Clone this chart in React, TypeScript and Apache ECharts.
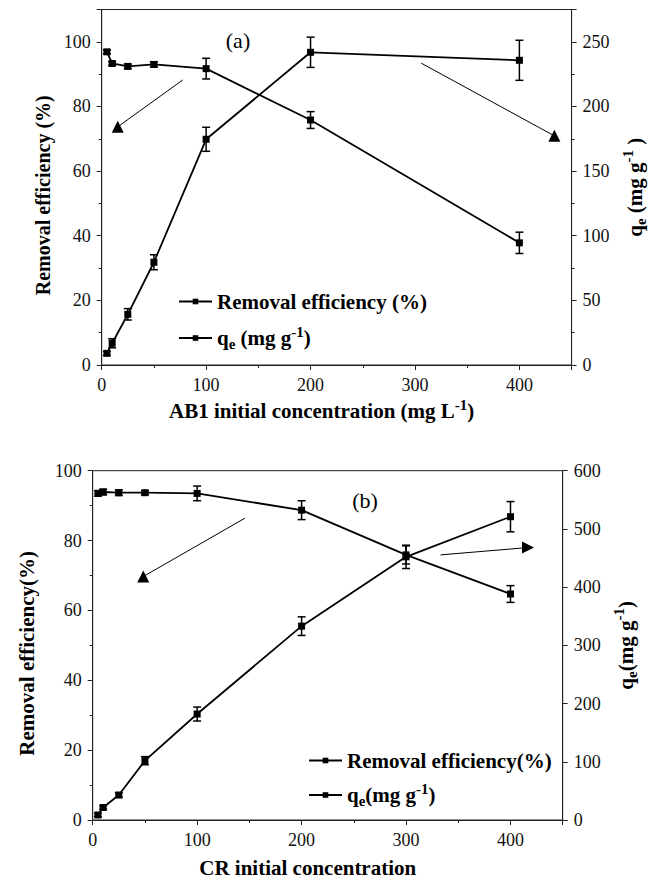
import React, { useEffect, useRef } from "react";
import * as echarts from "echarts";

// ---------- data ----------
const concA = [5, 10, 25, 50, 100, 200, 400];
const removalA = [96.9, 93.3, 92.4, 93.0, 91.7, 75.8, 37.8];
const removalAErr = [0.6, 0.6, 0.7, 0.8, 3.2, 2.6, 3.3];
const qeA = [9.0, 16.8, 39.2, 79.5, 174.6, 241.9, 235.7];
const qeAErr = [1.5, 3.5, 4.4, 5.8, 9.3, 11.7, 15.5];

const concB = [5, 10, 25, 50, 100, 200, 300, 400];
const removalB = [93.5, 93.9, 93.7, 93.7, 93.5, 88.7, 75.9, 64.7];
const removalBErr = [0.8, 0.8, 0.8, 0.6, 2.1, 2.7, 2.6, 2.4];
const qeB = [8.6, 21.5, 42.9, 101.9, 182, 333, 452, 521];
const qeBErr = [3, 3, 4, 7, 12, 16, 20, 26];

// annotation arrows (data coordinates on the left axis of each panel): [x1, y1, x2, y2]
const arrowA1 = [77.6, 88.2, 15.4, 73.7];
const arrowA2 = [306, 93.4, 433.5, 70.9];
const arrowB1 = [145.7, 86.4, 48.4, 69.7];
const arrowB2 = [333, 75.9, 416.8, 78.0];

const FONT = "Liberation Serif";

const rich = (size: number) => ({
  b: { fontFamily: FONT, fontWeight: "bold", fontSize: size, color: "#000" },
  sub: {
    fontFamily: FONT,
    fontWeight: "bold",
    fontSize: Math.round(size * 0.72),
    color: "#000",
    padding: [Math.round(size * 0.55), 0, 0, 0],
  },
  sup: {
    fontFamily: FONT,
    fontWeight: "bold",
    fontSize: Math.round(size * 0.72),
    color: "#000",
    padding: [0, 0, Math.round(size * 0.6), 0],
  },
});

const errBar = (xi: number, yi: number, xs: number[], ys: number[], es: number[]) => ({
  type: "custom",
  xAxisIndex: xi,
  yAxisIndex: yi,
  silent: true,
  z: 3,
  data: xs.map((x, i) => [x, ys[i] - es[i], ys[i] + es[i]]),
  encode: { x: 0, y: [1, 2] },
  renderItem: (params: any, api: any) => {
    const x = api.value(0);
    const p1 = api.coord([x, api.value(1)]);
    const p2 = api.coord([x, api.value(2)]);
    const w = 4;
    const st = { stroke: "#000", lineWidth: 1.5 };
    return {
      type: "group",
      children: [
        { type: "line", shape: { x1: p1[0], y1: p1[1], x2: p2[0], y2: p2[1] }, style: st },
        { type: "line", shape: { x1: p1[0] - w, y1: p1[1], x2: p1[0] + w, y2: p1[1] }, style: st },
        { type: "line", shape: { x1: p2[0] - w, y1: p2[1], x2: p2[0] + w, y2: p2[1] }, style: st },
      ],
    };
  },
});

const arrowPair = (a: number[], rot: number) => [
  { coord: [a[0], a[1]], symbol: "none" },
  { coord: [a[2], a[3]], symbol: "triangle", symbolSize: 12, symbolRotate: rot },
];

const markArrows = (pairs: any[]) => ({
  silent: true,
  symbol: ["none", "triangle"],
  symbolSize: 12,
  label: { show: false },
  emphasis: { disabled: true },
  lineStyle: { type: "solid", color: "#000", width: 1 },
  itemStyle: { color: "#000" },
  data: pairs,
});

const lineSeries = (name: string, xi: number, yi: number, xs: number[], ys: number[], extra: any = {}) => ({
  type: "line",
  name,
  xAxisIndex: xi,
  yAxisIndex: yi,
  data: xs.map((x, i) => [x, ys[i]]),
  symbol: "rect",
  symbolSize: 7,
  lineStyle: { color: "#000", width: 1.8 },
  itemStyle: { color: "#000" },
  z: 4,
  ...extra,
});

const axisLabel = { fontFamily: FONT, fontSize: 18, color: "#111", margin: 11 };
const axisLine = { show: true, lineStyle: { color: "#222", width: 1 } };
const axisTick = { show: true, length: 5, lineStyle: { color: "#222" } };
const minorTick = { show: true, splitNumber: 2, length: 3, lineStyle: { color: "#222" } };

export default function App() {
  const ref = useRef<HTMLDivElement>(null);
  useEffect(() => {
    if (!ref.current) return;
    const chart = echarts.init(ref.current, undefined, { renderer: "svg" });
    const nameA1 = "Removal efficiency (%)";
    const nameA2 = "qe (mg g-1)";
    const nameB1 = "Removal efficiency(%)";
    const nameB2 = "qe(mg g-1)";
    const legendText: Record<string, string> = {
      [nameA1]: "{b|Removal efficiency (%)}",
      [nameA2]: "{b|q}{sub|e}{b| (mg g}{sup|-1}{b|)}",
      [nameB1]: "{b|Removal efficiency(%)}",
      [nameB2]: "{b|q}{sub|e}{b|(mg g}{sup|-1}{b|)}",
    };
    const option: any = {
      animation: false,
      backgroundColor: "#fff",
      textStyle: { fontFamily: FONT },
      grid: [
        { left: 101.7, top: 9.5, right: 76.7, bottom: 515, show: true, borderColor: "#222", borderWidth: 1 },
        { left: 92.7, top: 470.7, right: 93.3, bottom: 60, show: true, borderColor: "#222", borderWidth: 1 },
      ],
      legend: [
        {
          data: [nameA1, nameA2],
          orient: "vertical",
          left: 173,
          top: 286,
          itemWidth: 33,
          itemHeight: 7,
          itemGap: 12,
          selectedMode: false,
          formatter: (n: string) => legendText[n],
          textStyle: { fontFamily: FONT, rich: rich(21) },
        },
        {
          data: [nameB1, nameB2],
          orient: "vertical",
          left: 303,
          top: 745,
          itemWidth: 33,
          itemHeight: 7,
          itemGap: 10,
          selectedMode: false,
          formatter: (n: string) => legendText[n],
          textStyle: { fontFamily: FONT, rich: rich(21) },
        },
      ],
      xAxis: [
        {
          type: "value",
          gridIndex: 0,
          min: 0,
          max: 450,
          interval: 100,
          axisLine,
          axisTick,
          minorTick,
          splitLine: { show: false },
          axisLabel: { ...axisLabel, showMaxLabel: false },
          name: "{b|AB1 initial concentration (mg L}{sup|-1}{b|)}",
          nameLocation: "middle",
          nameGap: 32,
          nameTextStyle: { fontFamily: FONT, rich: rich(21), padding: [0, 30, 0, 0] },
        },
        {
          type: "value",
          gridIndex: 1,
          min: 0,
          max: 450,
          interval: 100,
          axisLine,
          axisTick,
          minorTick,
          splitLine: { show: false },
          axisLabel: { ...axisLabel, showMaxLabel: false },
          name: "{b|CR initial concentration}",
          nameLocation: "middle",
          nameGap: 37,
          nameTextStyle: { fontFamily: FONT, rich: rich(21), padding: [0, 40, 0, 0] },
        },
      ],
      yAxis: [
        {
          type: "value",
          gridIndex: 0,
          position: "left",
          min: 0,
          max: 110,
          interval: 20,
          axisLine,
          axisTick,
          minorTick,
          splitLine: { show: false },
          axisLabel: { ...axisLabel, showMaxLabel: false },
          name: "{b|Removal efficiency (%)}",
          nameLocation: "middle",
          nameRotate: 90,
          nameGap: 49,
          nameTextStyle: { fontFamily: FONT, rich: rich(20), padding: [0, 16, 0, 0] },
        },
        {
          type: "value",
          gridIndex: 0,
          position: "right",
          min: 0,
          max: 275,
          interval: 50,
          axisLine,
          axisTick,
          minorTick,
          splitLine: { show: false },
          axisLabel: { ...axisLabel, showMaxLabel: false },
          name: "{b|q}{sub|e}{b| (mg g}{sup|-1}{b| )}",
          nameLocation: "middle",
          nameRotate: 90,
          nameGap: 46,
          nameTextStyle: { fontFamily: FONT, rich: rich(21) },
        },
        {
          type: "value",
          gridIndex: 1,
          position: "left",
          min: 0,
          max: 100,
          interval: 20,
          axisLine,
          axisTick,
          minorTick,
          splitLine: { show: false },
          axisLabel,
          name: "{b|Removal efficiency(%)}",
          nameLocation: "middle",
          nameRotate: 90,
          nameGap: 55,
          nameTextStyle: { fontFamily: FONT, rich: rich(21), padding: [0, 16, 0, 0] },
        },
        {
          type: "value",
          gridIndex: 1,
          position: "right",
          min: 0,
          max: 600,
          interval: 100,
          axisLine,
          axisTick,
          minorTick: { show: false },
          splitLine: { show: false },
          axisLabel,
          name: "{b|q}{sub|e}{b|(mg g}{sup|-1}{b|)}",
          nameLocation: "middle",
          nameRotate: 90,
          nameGap: 48,
          nameTextStyle: { fontFamily: FONT, rich: rich(21) },
        },
      ],
      graphic: [
        { type: "text", x: 238, y: 40, style: { text: "(a)", font: `22px ${FONT}`, fill: "#000", align: "center", verticalAlign: "middle" } },
        { type: "text", x: 365, y: 500, style: { text: "(b)", font: `22px ${FONT}`, fill: "#000", align: "center", verticalAlign: "middle" } },
      ],
      series: [
        errBar(0, 0, concA, removalA, removalAErr),
        errBar(0, 1, concA, qeA, qeAErr),
        lineSeries(nameA1, 0, 0, concA, removalA, {
          markLine: markArrows([arrowPair(arrowA1, 0), arrowPair(arrowA2, 0)]),
        }),
        lineSeries(nameA2, 0, 1, concA, qeA),
        errBar(1, 2, concB, removalB, removalBErr),
        errBar(1, 3, concB, qeB, qeBErr),
        lineSeries(nameB1, 1, 2, concB, removalB, {
          markLine: markArrows([arrowPair(arrowB1, 0), arrowPair(arrowB2, -90)]),
        }),
        lineSeries(nameB2, 1, 3, concB, qeB),
      ],
    };
    chart.setOption(option);
    return () => chart.dispose();
  }, []);
  return (
    <div
      ref={ref}
      style={{ position: "absolute", left: 0, top: 0, width: 656, height: 880, background: "#fff" }}
    />
  );
}
